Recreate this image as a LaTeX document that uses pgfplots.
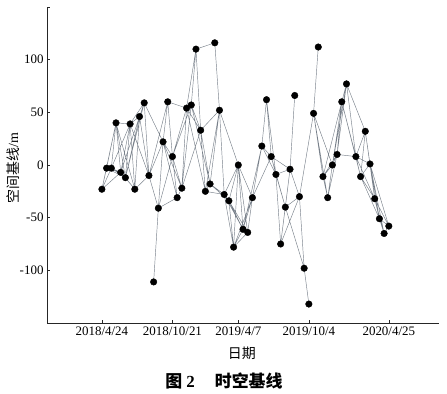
\documentclass[border=0pt]{standalone}
\usepackage{fontspec}
\setmainfont{Liberation Serif}
\newfontfamily\cjk{Noto Sans CJK SC}
\usepackage{pgfplots}
\pgfplotsset{compat=1.18}
\definecolor{netgray}{RGB}{120,128,138}
\begin{document}
\begin{tikzpicture}[x=1bp,y=1bp]
\useasboundingbox (-47,-70) rectangle (400,323);
\begin{axis}[
  at={(0,0)}, anchor=south west,
  scale only axis, width=392bp, height=316bp,
  xmin=-11.67, xmax=71.67, ymin=-150, ymax=150,
  axis lines=left,
  axis line style={-, line width=0.6pt, black!85},
  tick align=inside,
  major tick length=3bp,
  tick style={black!85, line width=0.6pt},
  xtick={0,15,29,44,61},
  xticklabels={2018/4/24,2018/10/21,2019/4/7,2019/10/4,2020/4/25},
  ytick={-150,-100,-50,0,50,100,150},
  yticklabels={,-100,-50,0,50,100,},
  ticklabel style={font=\fontsize{13}{15}\selectfont},
  xlabel={\cjk 日期},
  xlabel style={at={(axis description cs:0.497,-0.095)}, anchor=center, font=\fontsize{14}{16}\selectfont},
  ylabel={{\cjk 空间基线}/m},
  ylabel style={at={(axis description cs:-0.087,0.49)}, anchor=center, font=\fontsize{14}{16}\selectfont},
  unbounded coords=jump,
  clip=false,
]
% network of interferometric pairs
\addplot[netgray, line width=0.45pt] coordinates {
(0,-23)(1,-3) (nan,nan) (0,-23)(2,-3) (nan,nan) (0,-23)(3,40) (nan,nan) (0,-23)(4,-7) (nan,nan)
(1,-3)(2,-3) (nan,nan) (1,-3)(3,40) (nan,nan) (1,-3)(4,-7) (nan,nan) (1,-3)(5,-12) (nan,nan)
(2,-3)(3,40) (nan,nan) (2,-3)(4,-7) (nan,nan) (2,-3)(5,-12) (nan,nan) (2,-3)(6,39) (nan,nan)
(3,40)(4,-7) (nan,nan) (3,40)(5,-12) (nan,nan) (3,40)(6,39) (nan,nan) (3,40)(7,-23) (nan,nan)
(4,-7)(5,-12) (nan,nan) (4,-7)(6,39) (nan,nan) (4,-7)(7,-23) (nan,nan) (4,-7)(8,46) (nan,nan)
(5,-12)(6,39) (nan,nan) (5,-12)(7,-23) (nan,nan) (5,-12)(8,46) (nan,nan) (5,-12)(9,59) (nan,nan)
(6,39)(7,-23) (nan,nan) (6,39)(8,46) (nan,nan) (6,39)(9,59) (nan,nan) (6,39)(10,-10) (nan,nan)
(7,-23)(8,46) (nan,nan) (7,-23)(10,-10) (nan,nan)
(8,46)(9,59) (nan,nan) (8,46)(10,-10) (nan,nan)
(9,59)(10,-10) (nan,nan) (9,59)(13,22) (nan,nan)
(10,-10)(12,-41) (nan,nan) (10,-10)(13,22) (nan,nan) (10,-10)(14,60) (nan,nan)
(11,-111)(12,-41) (nan,nan)
(12,-41)(13,22) (nan,nan) (12,-41)(15,8) (nan,nan) (12,-41)(16,-31) (nan,nan)
(13,22)(14,60) (nan,nan) (13,22)(15,8) (nan,nan) (13,22)(16,-31) (nan,nan) (13,22)(17,-22) (nan,nan)
(14,60)(15,8) (nan,nan) (14,60)(18,54) (nan,nan)
(15,8)(16,-31) (nan,nan) (15,8)(17,-22) (nan,nan) (15,8)(18,54) (nan,nan) (15,8)(19,57) (nan,nan)
(16,-31)(17,-22) (nan,nan)
(17,-22)(18,54) (nan,nan) (17,-22)(19,57) (nan,nan) (17,-22)(21,33) (nan,nan)
(18,54)(19,57) (nan,nan) (18,54)(20,110) (nan,nan) (18,54)(21,33) (nan,nan) (18,54)(22,-25) (nan,nan)
(19,57)(20,110) (nan,nan) (19,57)(21,33) (nan,nan) (19,57)(23,-18) (nan,nan)
(20,110)(21,33) (nan,nan) (20,110)(24,116) (nan,nan)
(21,33)(22,-25) (nan,nan) (21,33)(23,-18) (nan,nan) (21,33)(25,52) (nan,nan)
(22,-25)(23,-18) (nan,nan) (22,-25)(25,52) (nan,nan) (22,-25)(26,-28) (nan,nan)
(23,-18)(25,52) (nan,nan) (23,-18)(26,-28) (nan,nan) (23,-18)(27,-34) (nan,nan)
(24,116)(25,52) (nan,nan)
(25,52)(26,-28) (nan,nan) (25,52)(29,0) (nan,nan)
(26,-28)(27,-34) (nan,nan) (26,-28)(28,-78) (nan,nan) (26,-28)(29,0) (nan,nan) (26,-28)(30,-61) (nan,nan)
(27,-34)(28,-78) (nan,nan) (27,-34)(29,0) (nan,nan) (27,-34)(30,-61) (nan,nan) (27,-34)(31,-64) (nan,nan)
(28,-78)(29,0) (nan,nan) (28,-78)(30,-61) (nan,nan) (28,-78)(31,-64) (nan,nan) (28,-78)(32,-31) (nan,nan)
(29,0)(30,-61) (nan,nan) (29,0)(31,-64) (nan,nan) (29,0)(32,-31) (nan,nan)
(30,-61)(31,-64) (nan,nan) (30,-61)(32,-31) (nan,nan) (30,-61)(34,18) (nan,nan)
(31,-64)(32,-31) (nan,nan)
(32,-31)(34,18) (nan,nan) (32,-31)(36,8) (nan,nan)
(34,18)(35,62) (nan,nan) (34,18)(36,8) (nan,nan) (34,18)(37,-9) (nan,nan)
(35,62)(36,8) (nan,nan) (35,62)(37,-9) (nan,nan)
(36,8)(37,-9) (nan,nan) (36,8)(39,-40) (nan,nan) (36,8)(40,-4) (nan,nan)
(37,-9)(38,-75) (nan,nan) (37,-9)(39,-40) (nan,nan) (37,-9)(40,-4) (nan,nan)
(38,-75)(39,-40) (nan,nan) (38,-75)(40,-4) (nan,nan) (38,-75)(42,-30) (nan,nan)
(39,-40)(40,-4) (nan,nan) (39,-40)(42,-30) (nan,nan) (39,-40)(43,-98) (nan,nan)
(40,-4)(41,66) (nan,nan) (40,-4)(42,-30) (nan,nan)
(42,-30)(43,-98) (nan,nan) (42,-30)(45,49) (nan,nan)
(43,-98)(44,-132) (nan,nan)
(45,49)(46,112) (nan,nan) (45,49)(47,-11) (nan,nan) (45,49)(48,-31) (nan,nan) (45,49)(49,0) (nan,nan)
(47,-11)(48,-31) (nan,nan) (47,-11)(49,0) (nan,nan) (47,-11)(50,10) (nan,nan) (47,-11)(51,60) (nan,nan)
(48,-31)(49,0) (nan,nan) (48,-31)(50,10) (nan,nan)
(49,0)(50,10) (nan,nan) (49,0)(51,60) (nan,nan) (49,0)(52,77) (nan,nan)
(50,10)(51,60) (nan,nan) (50,10)(52,77) (nan,nan) (50,10)(54,8) (nan,nan)
(51,60)(52,77) (nan,nan) (51,60)(54,8) (nan,nan) (51,60)(55,-11) (nan,nan)
(52,77)(54,8) (nan,nan) (52,77)(56,32) (nan,nan)
(54,8)(55,-11) (nan,nan) (54,8)(56,32) (nan,nan) (54,8)(57,1) (nan,nan) (54,8)(58,-32) (nan,nan)
(55,-11)(56,32) (nan,nan) (55,-11)(57,1) (nan,nan) (55,-11)(58,-32) (nan,nan) (55,-11)(59,-51) (nan,nan)
(56,32)(57,1) (nan,nan) (56,32)(58,-32) (nan,nan)
(57,1)(58,-32) (nan,nan) (57,1)(59,-51) (nan,nan) (57,1)(60,-65) (nan,nan) (57,1)(61,-58) (nan,nan)
(58,-32)(59,-51) (nan,nan) (58,-32)(60,-65) (nan,nan) (58,-32)(61,-58) (nan,nan)
(59,-51)(60,-65) (nan,nan) (59,-51)(61,-58) (nan,nan)
(60,-65)(61,-58)
};
% acquisitions
\addplot[only marks, mark=*, mark size=3.3pt, black] coordinates {
(0,-23)(1,-3)(2,-3)(3,40)(4,-7)(5,-12)(6,39)(7,-23)(8,46)(9,59)
(10,-10)(11,-111)(12,-41)(13,22)(14,60)(15,8)(16,-31)(17,-22)(18,54)(19,57)
(20,110)(21,33)(22,-25)(23,-18)(24,116)(25,52)(26,-28)(27,-34)(28,-78)(29,0)
(30,-61)(31,-64)(32,-31)(34,18)(35,62)(36,8)(37,-9)(38,-75)(39,-40)(40,-4)
(41,66)(42,-30)(43,-98)(44,-132)(45,49)(46,112)(47,-11)(48,-31)(49,0)(50,10)
(51,60)(52,77)(54,8)(55,-11)(56,32)(57,1)(58,-32)(59,-51)(60,-65)(61,-58)
};
\end{axis}
\node[font=\fontsize{17}{19}\selectfont\bfseries] at (177,-58) {{\cjk 图}\hspace{4bp}2\hspace{20bp}{\cjk 时空基线}};
\end{tikzpicture}
\end{document}
